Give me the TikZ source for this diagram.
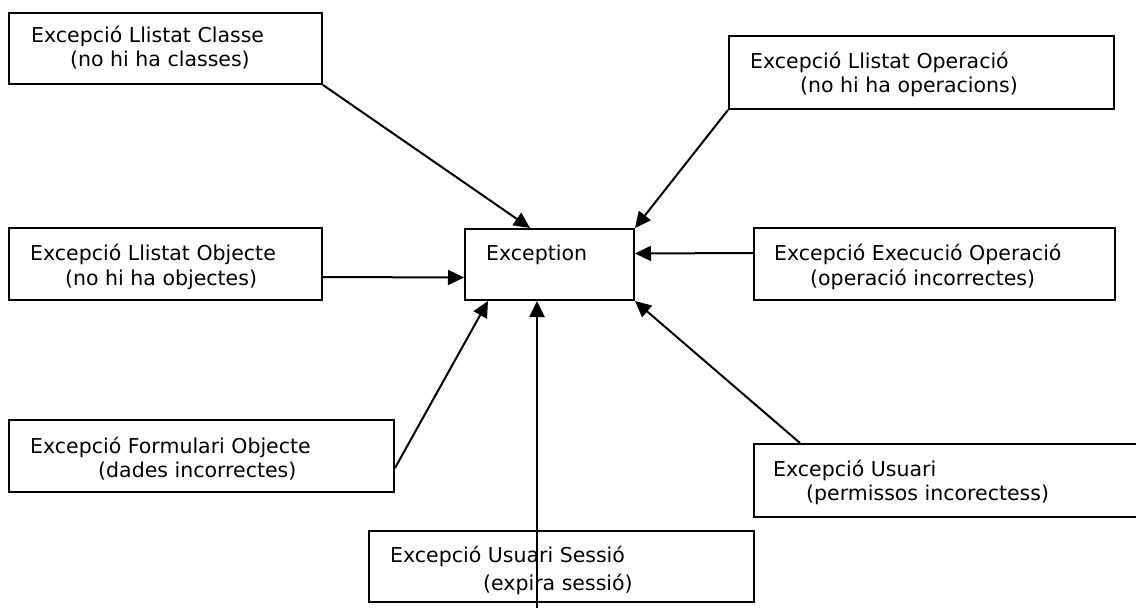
\documentclass[tikz,border=0pt]{standalone}
\usepackage{fontspec}
\setmainfont{DejaVu Sans}
\usetikzlibrary{arrows.meta}
\begin{document}
\begin{tikzpicture}[x=1pt,y=-1pt,
  box/.style={draw, line width=2pt, fill=white, anchor=north west, inner sep=0pt},
  lbl/.style={anchor=base west, inner sep=0pt, font=\fontsize{20.5}{24}\selectfont},
  arr/.style={line width=2pt, -{Triangle[length=16pt,width=15pt]}}]
\useasboundingbox (0,0) rectangle (1136,608);

% exception boxes
\node[box, minimum width=313pt, minimum height=71pt] (cls) at (8,12) {};
\node[box, minimum width=385pt, minimum height=73pt] (ope) at (728,35) {};
\node[box, minimum width=169pt, minimum height=71pt] (exc) at (464,228) {};
\node[box, minimum width=313pt, minimum height=72pt] (obj) at (8,227) {};
\node[box, minimum width=361pt, minimum height=72pt] (exe) at (753,227) {};
\node[box, minimum width=385pt, minimum height=72pt] (frm) at (8,419) {};
\node[box, minimum width=420pt, minimum height=73pt] (usr) at (753,443) {};
\node[box, minimum width=385pt, minimum height=71pt] (ses) at (368,530) {};

% labels
\node[lbl] (cls1) at (31,42) {Excepció Llistat Classe};
\node[lbl] (cls2) at (70,66) {(no hi ha classes)};
\node[lbl] (ope1) at (750,68) {Excepció Llistat Operació};
\node[lbl] (ope2) at (800,92) {(no hi ha operacions)};
\node[lbl] (exc1) at (486,260) {Exception};
\node[lbl] (obj1) at (30,260) {Excepció Llistat Objecte};
\node[lbl] (obj2) at (65,285) {(no hi ha objectes)};
\node[lbl] (exe1) at (774,260) {Excepció Execució Operació};
\node[lbl] (exe2) at (810,285) {(operació incorrectes)};
\node[lbl] (frm1) at (30,453) {Excepció Formulari Objecte};
\node[lbl] (frm2) at (98,477) {(dades incorrectes)};
\node[lbl] (usr1) at (773,476) {Excepció Usuari};
\node[lbl] (usr2) at (806,500) {(permissos incorectess)};
\node[lbl] (ses1) at (390,562) {Excepció Usuari Sessió};
\node[lbl] (ses2) at (483,590) {(expira sessió)};

% connectors into Exception
\coordinate (low) at (537,610);
\draw[arr] (cls.south east) -- ([xshift=66pt]exc.north west);
\draw[arr] (ope.south west) -- (exc.north east);
\draw[arr] ([yshift=-13pt]obj.east) -- ([yshift=-13pt]exc.west);
\draw[arr] ([yshift=11pt]exe.west) -- ([yshift=11pt]exc.east);
\draw[arr] ([yshift=-12pt]frm.east) -- ([xshift=24pt]exc.south west);
\draw[arr] ([xshift=47pt]usr.north west) -- (exc.south east);
\draw[arr] (low) -- ([xshift=73pt]exc.south west);
\end{tikzpicture}
\end{document}
